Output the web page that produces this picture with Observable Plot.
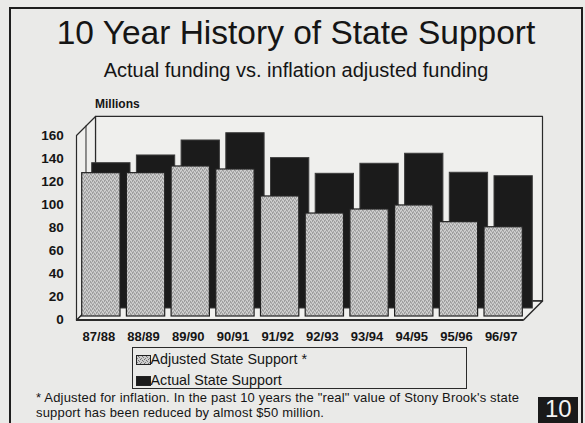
<!DOCTYPE html>
<html>
<head>
<meta charset="utf-8">
<script src="https://cdn.jsdelivr.net/npm/d3@7"></script>
<script src="https://cdn.jsdelivr.net/npm/@observablehq/plot@0.6"></script>
<style>
  body { margin: 0; }
  #page { position: relative; width: 585px; height: 423px; overflow: hidden; background: #eaeae8;
          font-family: "Liberation Sans", Arial, sans-serif; color: #151515; }
  .abs { position: absolute; white-space: nowrap; line-height: 1; }
</style>
</head>
<body>
<svg width="0" height="0" style="position:absolute">
  <defs>
    <pattern id="stipple" patternUnits="userSpaceOnUse" width="4" height="4">
      <rect width="4" height="4" fill="#cdcdcd"></rect>
      <rect x="0" y="0" width="1" height="1" fill="#6e6e6e"></rect>
      <rect x="2" y="1" width="1" height="1" fill="#6e6e6e"></rect>
      <rect x="1" y="3" width="1" height="1" fill="#808080"></rect>
      <rect x="3" y="2" width="1" height="1" fill="#808080"></rect>
    </pattern>
  </defs>
</svg>
<div id="page">
  <div class="abs" style="left:9px;top:6.5px;width:570px;height:450px;border:2px solid #1e1e1e;"></div>
  <div id="chart" class="abs" style="left:0;top:0;"></div>
  <div class="abs" id="title" style="left:9px;width:574px;text-align:center;top:16px;font-size:33.5px;">10 Year History of State Support</div>
  <div class="abs" id="subtitle" style="left:9px;width:574px;text-align:center;top:60px;font-size:20px;">Actual funding vs. inflation adjusted funding</div>
  <div class="abs" id="units" style="left:95px;top:98px;font-size:12px;font-weight:bold;">Millions</div>
  <div class="abs" id="legend" style="left:131.5px;top:347px;width:333px;height:40px;border:1px solid #2a2a2a;"></div>
  <div class="abs" id="footnote" style="left:36px;top:391px;font-size:13px;letter-spacing:0.18px;line-height:14.6px;"></div>
  <div class="abs" style="left:537.5px;top:396.5px;width:40px;height:40px;background:#1a1a1a;"></div>
  <div class="abs" style="left:545px;top:397px;font-size:24px;color:#f4f4f4;">10</div>
</div>
<script>
// ---- data ----
const categories = ["87/88", "88/89", "89/90", "90/91", "91/92", "92/93", "93/94", "94/95", "95/96", "96/97"];
const adjusted   = [124.3, 124.3, 130.1, 127.5, 104.1, 89.3, 92.8, 96.3, 81.8, 77.4];   // Adjusted State Support *
const actual     = [126.0, 132.7, 145.7, 152.0, 130.4, 116.8, 125.5, 134.2, 117.7, 114.7]; // Actual State Support
const yTicks     = [0, 20, 40, 60, 80, 100, 120, 140, 160];
const seriesNames = ["Adjusted State Support *", "Actual State Support"];
const footLines = [
  "* Adjusted for inflation. In the past 10 years the \"real\" value of Stony Brook's state",
  "support has been reduced by almost $50 million."
];

const rows = categories.map((c, i) => ({i, cat: c, adjusted: adjusted[i], actual: actual[i]}));
const n = categories.length;
const yMax = yTicks[yTicks.length - 1];
// 3-D depth of the chart box, in data units
const depthX = 0.425, depthY = 16.5;
const floorPoly = [[0, 0], [n, 0], [n + depthX, depthY], [depthX, depthY]];
const leftWall  = [[0, 0], [0, yMax], [depthX, yMax + depthY], [depthX, depthY]];
const backWall  = [[depthX, depthY], [n + depthX, depthY], [n + depthX, yMax + depthY], [depthX, yMax + depthY]];
const wallMid   = [[depthX / 2, depthY / 2], [depthX / 2, yMax + depthY / 2]];

const chart = Plot.plot({
  width: 585,
  height: 423,
  marginLeft: 76,
  marginRight: 62,
  marginTop: 135,
  marginBottom: 103.5,
  x: {domain: [0, n], axis: null},
  y: {domain: [0, yMax], axis: null},
  style: {background: "transparent", overflow: "visible", fontFamily: "'Liberation Sans', Arial, sans-serif"},
  marks: [
    Plot.line(backWall, {x: d => d[0], y: d => d[1], curve: "linear-closed", fill: "#efefed", stroke: "#2a2a2a", strokeWidth: 1.2}),
    Plot.line(floorPoly, {x: d => d[0], y: d => d[1], curve: "linear-closed", fill: "#f1f1ef", stroke: "#2a2a2a", strokeWidth: 1.5}),
    Plot.line(leftWall, {x: d => d[0], y: d => d[1], curve: "linear-closed", fill: "#efefed", stroke: "#2a2a2a", strokeWidth: 1.2}),
    Plot.line(wallMid, {x: d => d[0], y: d => d[1], stroke: "#2a2a2a", strokeWidth: 1}),
    Plot.rect(rows, {x1: d => d.i, x2: d => d.i + 1, y1: 0, y2: "actual", insetLeft: 5.7, insetRight: 0.7,
                     dx: 10, dy: -11.5, fill: "#1b1b1b", stroke: "#3c3c3c", strokeWidth: 1}),
    Plot.rect(rows, {x1: d => d.i, x2: d => d.i + 1, y1: 0, y2: "adjusted", insetLeft: 5.7, insetRight: 0.7,
                     dy: -3.5, fill: "url(#stipple)", stroke: "#222", strokeWidth: 1.2}),
    Plot.ruleY([0], {x1: 0, x2: n, stroke: "#2a2a2a", strokeWidth: 2}),
    Plot.text(yTicks, {x: 0, y: d => d, text: d => String(d), textAnchor: "end", dx: -12.7,
                       fontSize: 13.5, fontWeight: "bold", fill: "#151515"}),
    Plot.text(rows, {x: d => d.i + 0.5, y: 0, text: "cat", dy: 16.5, fontSize: 13, fontWeight: "bold", fill: "#151515"})
  ]
});
document.getElementById("chart").appendChild(chart);

// legend
const legend = document.getElementById("legend");
const swatchFills = ["url(#stipple)", "#1b1b1b"];
seriesNames.forEach((name, k) => {
  const item = document.createElement("div");
  item.className = "abs";
  item.style.left = "3px";
  item.style.top = (k === 0 ? 4 : 25) + "px";
  item.style.fontSize = "14.3px";
  item.innerHTML = `<svg width="15" height="10" style="vertical-align:-1px;margin-right:0px"><rect x="0.5" y="0.5" width="14" height="9" fill="${swatchFills[k]}" stroke="#222"></rect></svg>${name}`;
  legend.appendChild(item);
});

// footnote (one text block, two lines)
const foot = document.getElementById("footnote");
footLines.forEach((t, k) => {
  if (k > 0) foot.appendChild(document.createElement("br"));
  foot.appendChild(document.createTextNode(t));
});
</script>
</body>
</html>
